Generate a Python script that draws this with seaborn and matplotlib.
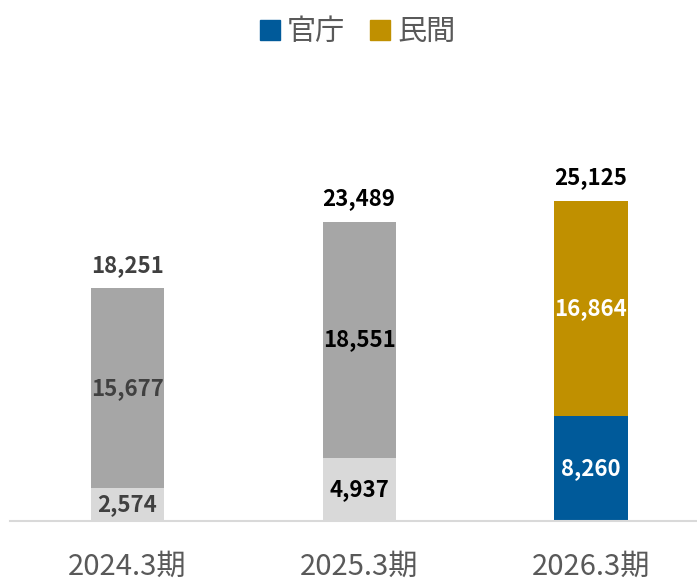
import pandas as pd
import numpy as np
import matplotlib.pyplot as plt
import seaborn as sns
from matplotlib.lines import Line2D

# data
periods = ["2024.3期", "2025.3期", "2026.3期"]
bottom_vals = [2574, 4937, 8260]
top_vals = [15677, 18551, 16864]
totals = [18251, 23489, 25125]

bottom_colors = ["#d9d9d9", "#d9d9d9", "#005a9a"]
top_colors = ["#a6a6a6", "#a6a6a6", "#c09000"]
label_colors = ["#404040", "#000000", "#ffffff"]
total_colors = ["#404040", "#000000", "#000000"]

df = pd.DataFrame({"period": periods, "bottom": bottom_vals,
                   "top": top_vals, "total": totals})

sns.set_theme(style="white")
plt.rcParams['font.family'] = ['Noto Sans CJK JP', 'DejaVu Sans']

fig = plt.figure(figsize=(6.97, 5.86), dpi=100)
ax = fig.add_axes([0.0143, 0.111, 0.9857, 0.787])

# stacked: draw full height with the top colour, then the bottom part over it
sns.barplot(data=df, x="period", y="total", hue="period",
            palette=top_colors, width=0.315, legend=False, ax=ax,
            saturation=1, edgecolor="none")
sns.barplot(data=df, x="period", y="bottom", hue="period",
            palette=bottom_colors, width=0.315, legend=False, ax=ax,
            saturation=1, edgecolor="none")

for i in range(len(periods)):
    b = df["bottom"][i]
    t = df["top"][i]
    tot = df["total"][i]
    ax.text(i, b / 2, f"{b:,}", ha="center", va="center", fontsize=16,
            fontweight="bold", color=label_colors[i])
    ax.text(i, b + t / 2, f"{t:,}", ha="center", va="center", fontsize=16,
            fontweight="bold", color=label_colors[i])
    ax.text(i, tot + 900, f"{tot:,}", ha="center", va="bottom", fontsize=16,
            fontweight="bold", color=total_colors[i])

ax.set_xlim(-0.505, 2.457)
ax.set_ylim(0, 36200)
ax.set_yticks([])
ax.set_xlabel("")
ax.set_ylabel("")
for s in ["top", "right", "left"]:
    ax.spines[s].set_visible(False)
ax.spines["bottom"].set_color("#d9d9d9")
ax.spines["bottom"].set_linewidth(1.5)
ax.tick_params(axis="x", length=0, pad=22, labelsize=21, colors="#595959")

handles = [Line2D([], [], marker="s", linestyle="none", markersize=15,
                  color="#005a9a"),
           Line2D([], [], marker="s", linestyle="none", markersize=15,
                  color="#c09000")]
fig.legend(handles, ["官庁", "民間"], loc="center", bbox_to_anchor=(0.51, 0.945),
           ncol=2, frameon=False, fontsize=21, handletextpad=0.1,
           handlelength=1.0, columnspacing=0.7, labelcolor="#595959")

fig.savefig("out.png", dpi=100)
